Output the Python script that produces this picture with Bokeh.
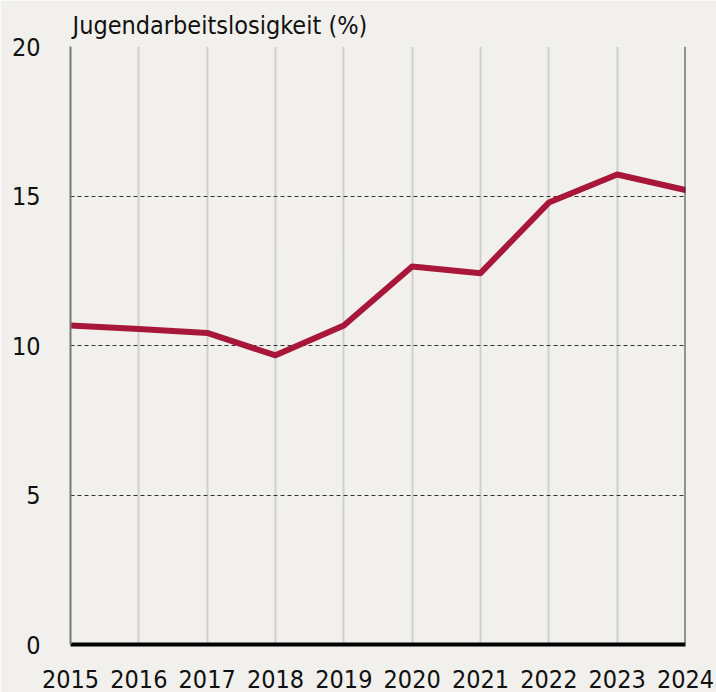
from bokeh.plotting import figure
from bokeh.models import FixedTicker, Span, Title
from bokeh.embed import file_html
from bokeh.resources import INLINE

years = [2015, 2016, 2017, 2018, 2019, 2020, 2021, 2022, 2023, 2024]
rate = [10.67, 10.55, 10.42, 9.67, 10.67, 12.64, 12.42, 14.78, 15.72, 15.2]
y_ticks = [0, 5, 10, 15, 20]
title_text = "Jugendarbeitslosigkeit (%)"

FONT = "DejaVu Sans Condensed"
BG = "#f1f0ec"

p = figure(width=716, height=692, output_backend="svg", toolbar_location=None,
           x_range=(2015, 2024), y_range=(0, 20),
           background_fill_color=BG, border_fill_color=BG,
           min_border_left=70, min_border_right=31, min_border_top=46, min_border_bottom=48)
p.outline_line_color = None

t = Title(text=title_text, align="left", text_font=FONT, text_font_size="25px",
          text_font_style="normal", text_color="#111111", offset=2, standoff=13)
p.add_layout(t, "above")

p.xaxis.ticker = FixedTicker(ticks=years)
p.yaxis.ticker = FixedTicker(ticks=y_ticks)
for ax in (p.xaxis, p.yaxis):
    ax.major_label_text_font = FONT
    ax.major_label_text_font_size = "25px"
    ax.major_label_text_color = "#111111"
    ax.major_tick_line_color = None
    ax.minor_tick_line_color = None
p.xaxis.axis_line_color = "#000000"
p.xaxis.axis_line_width = 4
p.xaxis.major_label_standoff = 19
p.yaxis.axis_line_color = "#777777"
p.yaxis.axis_line_width = 2
p.yaxis.major_label_standoff = 24

p.xgrid.grid_line_color = "#cfcfcf"
p.xgrid.grid_line_width = 2
p.ygrid.grid_line_color = "#333333"
p.ygrid.grid_line_width = 1
p.ygrid.grid_line_dash = "4 3"

p.add_layout(Span(location=2024, dimension="height", line_color="#333333", line_width=2))

p.line(years, rate, line_color="#a8173a", line_width=6, line_cap="round", line_join="round")

open("out.html", "w").write(file_html(p, INLINE))
